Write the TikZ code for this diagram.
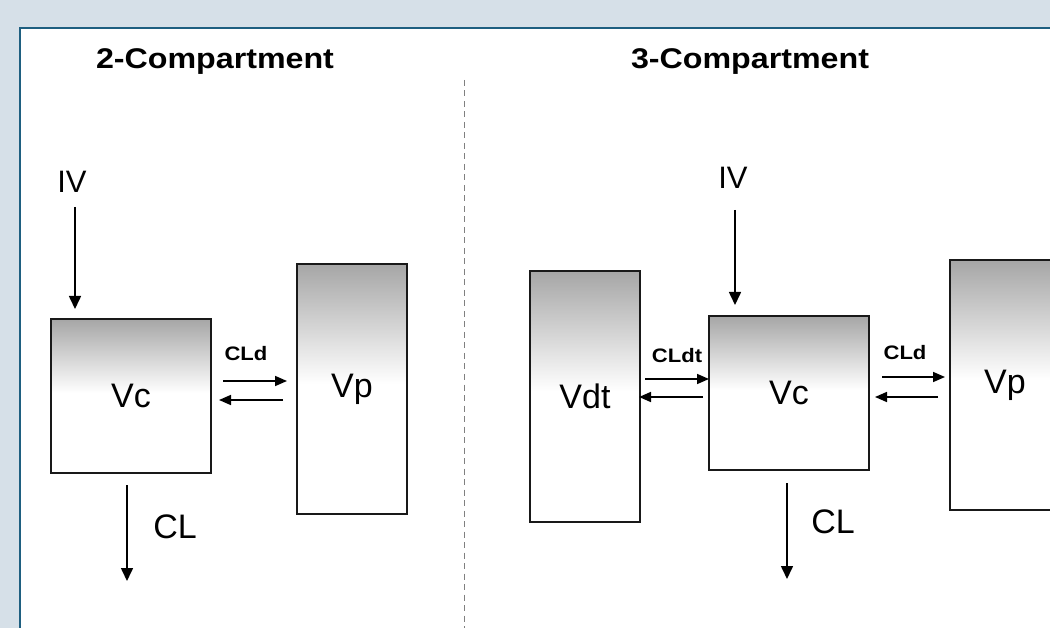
\documentclass[tikz,border=0pt]{standalone}
\usepackage{fontspec}
\setmainfont{Liberation Sans}
\newfontfamily\boldwide{Liberation Sans Bold}[FakeStretch=1.13]
\usetikzlibrary{arrows.meta}
\definecolor{bgblue}{HTML}{D6E0E8}
\definecolor{panelline}{HTML}{1E5F80}
\definecolor{topgray}{HTML}{A6A6A6}
\pgfdeclareverticalshading{boxshade}{100bp}{color(0bp)=(white); color(51bp)=(white); color(75bp)=(topgray); color(100bp)=(topgray)}
\begin{document}
\begin{tikzpicture}[x=1pt,y=-1pt,
  comp/.style={draw=black!90, line width=1.8pt, shading=boxshade, inner sep=0pt,
    font=\fontsize{34}{38}\selectfont},
  lbl/.style={inner sep=0pt, font=\fontsize{34}{38}\selectfont},
  title/.style={inner sep=0pt, font=\boldwide\fontsize{28.5}{32}\selectfont},
  flow/.style={inner sep=0pt, font=\boldwide\fontsize{19.5}{22}\selectfont},
  arr/.style={line width=1.6pt, -{Triangle[length=12pt,width=10pt]}},
  varr/.style={line width=1.6pt, -{Triangle[length=13pt,width=12pt]}},
  sep/.style={gray, line width=1pt, dash pattern=on 6pt off 4.5pt}
]
\useasboundingbox (0,0) rectangle (1050,628);
\fill[bgblue] (0,0) rectangle (1050,628);
\fill[white] (20,28) rectangle (1060,640);
\draw[panelline, line width=2pt] (20,640) -- (20,28) -- (1060,28);

% titles
\node[title] (t2) at (215,62) {2-Compartment};
\node[title] (t3) at (750,62) {3-Compartment};
\draw[sep] (464,80) -- (464,628);

% ---------- 2-compartment ----------
\node[comp, minimum width=160pt, minimum height=154pt] (vc1) at (131,396) {Vc};
\node[comp, minimum width=110pt, minimum height=250pt] (vp1) at (352,389) {Vp};
\node[lbl, font=\fontsize{31}{36}\selectfont] (iv1) at (72,182) {IV};
\node[lbl] (cl1) at (175,527) {CL};
\node[flow] (cld1) at (246,354) {CLd};
\coordinate (iv1s) at (75,207);
\coordinate (iv1e) at (75,309);
\draw[varr] (iv1s) -- (iv1e);
\coordinate (cl1s) at (127,485);
\coordinate (cl1e) at (127,581);
\draw[varr] (cl1s) -- (cl1e);
\coordinate (a1s) at (223,381);
\coordinate (a1e) at (287,381);
\draw[arr] (a1s) -- (a1e);
\coordinate (b1s) at (283,400);
\coordinate (b1e) at (219,400);
\draw[arr] (b1s) -- (b1e);

% ---------- 3-compartment ----------
\node[comp, minimum width=110pt, minimum height=251pt] (vdt) at (585,396.5) {Vdt};
\node[comp, minimum width=160pt, minimum height=154pt] (vc2) at (789,393) {Vc};
\node[comp, minimum width=110pt, minimum height=250pt] (vp2) at (1005,385) {Vp};
\node[lbl, font=\fontsize{31}{36}\selectfont] (iv2) at (733,178) {IV};
\node[lbl] (cl2) at (833,522) {CL};
\node[flow] (cldt) at (677,356) {CLdt};
\node[flow] (cld2) at (905,353) {CLd};
\coordinate (iv2s) at (735,210);
\coordinate (iv2e) at (735,305);
\draw[varr] (iv2s) -- (iv2e);
\coordinate (cl2s) at (787,483);
\coordinate (cl2e) at (787,579);
\draw[varr] (cl2s) -- (cl2e);
\coordinate (a2s) at (645,379);
\coordinate (a2e) at (709,379);
\draw[arr] (a2s) -- (a2e);
\coordinate (b2s) at (703,397);
\coordinate (b2e) at (639,397);
\draw[arr] (b2s) -- (b2e);
\coordinate (a3s) at (882,377);
\coordinate (a3e) at (945,377);
\draw[arr] (a3s) -- (a3e);
\coordinate (b3s) at (938,397);
\coordinate (b3e) at (875,397);
\draw[arr] (b3s) -- (b3e);
\end{tikzpicture}
\end{document}
